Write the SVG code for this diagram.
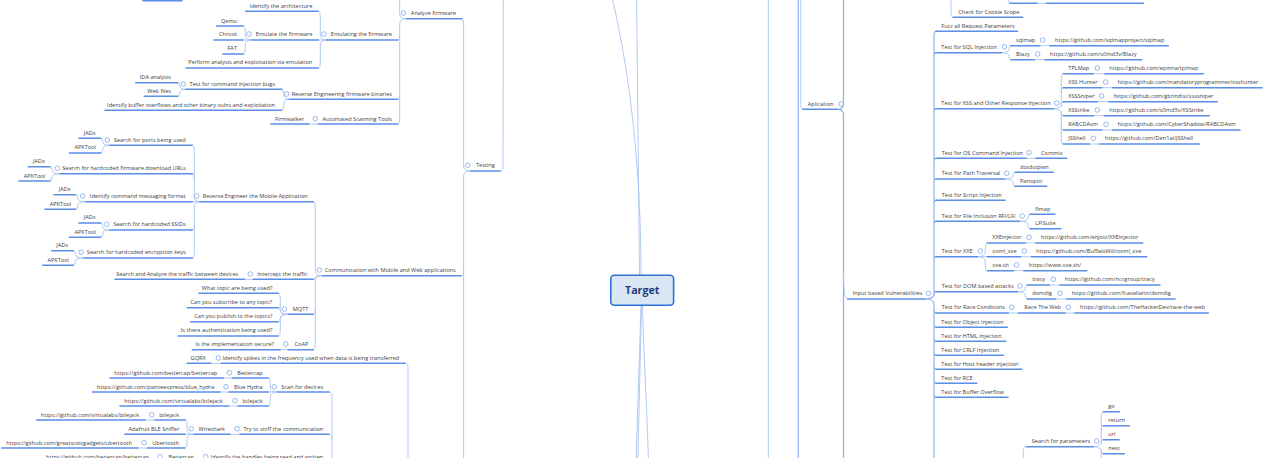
<svg xmlns="http://www.w3.org/2000/svg" width="1275" height="458" viewBox="0 0 1275 458">
<style>
.t{font-family:"Open Sans","Noto Sans","DejaVu Sans",sans-serif;font-size:5.6px;fill:#3d3d3d}
.e{text-anchor:end}
.u{stroke:#5b8ee6;stroke-width:1.6;fill:none;stroke-linecap:round}
.c{stroke:#a9c3ef;stroke-width:0.9;fill:none}
.c2{stroke:#8fb1ec;stroke-width:1.2;fill:none}
.k{fill:#fff;stroke:#8fb1ec;stroke-width:0.9}
</style>
<rect width="1275" height="458" fill="#fff"/>
<g id="connectors">
<path class="c" d="M641 275C641 180 632 80 611.5 -5M639.5 275L636.6 -5M641 305.5L635.8 470M641.5 305.5L637.6 470M642.5 305.5C644 360 647 410 648.8 470"/>
<path class="c" d="M768.3 -5V470"/>
<path class="c2" d="M798.3 -5V470"/>
<path class="c" d="M326.7 40Q320.3 40 320.3 35V16.3Q320.3 11.3 318.3 11.3M326.7 40H318.3M326.7 40Q320.3 40 320.3 45V63Q320.3 68 318.3 68"/>
<path class="c" d="M251.7 40Q245.3 40 245.3 35V31Q245.3 26 243.3 26M251.7 40H243.3M251.7 40Q245.3 40 245.3 45V49Q245.3 54 243.3 54"/>
<path class="c" d="M406.7 18.7Q399.7 18.7 399.7 23.7V35Q399.7 40 397.7 40M399.7 35V94.3Q399.7 99.3 397.7 99.3M399.7 94.3V119Q399.7 124 397.7 124M406.7 18.7Q399.7 18.7 399.7 13.7V-5"/>
<path class="c" d="M289.3 99.3Q283.7 99.3 283.7 94.3Q283.7 89.3 281.7 89.3M289.3 99.3Q283.7 99.3 283.7 104.3V105.3Q283.7 110.3 281.7 110.3"/>
<path class="c" d="M186 89.3Q179.7 89.3 179.7 86Q179.7 82.7 177.7 82.7M186 89.3Q179.7 89.3 179.7 92.8Q179.7 96.3 177.7 96.3"/>
<path class="c" d="M318.3 124H308.7"/>
<path class="c" d="M471 171Q463.6 171 463.6 166V23.7Q463.6 18.7 461.7 18.7M471 171Q463.6 171 463.6 176V270.7Q463.6 275.7 461 275.7M463.6 270.7V470"/>
<path class="c" d="M500 171Q503 171 503 166L503.3 -5"/>
<path class="c" d="M322.7 275.7Q315.3 275.7 315.3 270.7V206.7Q315.3 201.7 313.3 201.7M322.7 275.7Q315.3 275.7 315.3 277.5Q315.3 279.3 313.3 279.3M322.7 275.7Q315.3 275.7 315.3 280.7V309.3Q315.3 314.3 313.3 314.3M315.3 309.3V344.7Q315.3 349.7 313.3 349.7"/>
<path class="c" d="M200 201.7Q194.3 201.7 194.3 196.7V150.3Q194.3 145.3 192.3 145.3M194.3 178.7Q194.3 173.7 192.3 173.7M200 201.7H192.3M200 201.7Q194.3 201.7 194.3 206.7V253Q194.3 258 192.3 258M194.3 225Q194.3 230 192.3 230"/>
<path class="c" d="M110 145.3Q102.7 145.3 102.7 141.8Q102.7 138.3 100.7 138.3M110 145.3Q102.7 145.3 102.7 149.2Q102.7 153 100.7 153"/>
<path class="c" d="M60 173.7Q52 173.7 52 170.2Q52 166.7 50 166.7M60 173.7Q52 173.7 52 177.3Q52 181 50 181"/>
<path class="c" d="M86 201.7Q77.7 201.7 77.7 198.2Q77.7 194.7 75.7 194.7M86 201.7Q77.7 201.7 77.7 205.5Q77.7 209.3 75.7 209.3"/>
<path class="c" d="M110 230Q102.7 230 102.7 226.5Q102.7 223 100.7 223M110 230Q102.7 230 102.7 233.7Q102.7 237.3 100.7 237.3"/>
<path class="c" d="M84 258Q75.3 258 75.3 254.3Q75.3 250.7 73.3 250.7M84 258Q75.3 258 75.3 261.7Q75.3 265.3 73.3 265.3"/>
<path class="c" d="M253.3 279.3H244.3"/>
<path class="c" d="M288.3 314.3Q280.3 314.3 280.3 309.3V298.3Q280.3 293.3 278.3 293.3M288.3 314.3Q280.3 314.3 280.3 311Q280.3 307.7 278.3 307.7M288.3 314.3Q280.3 314.3 280.3 318Q280.3 321.7 278.3 321.7M288.3 314.3Q280.3 314.3 280.3 319.3V331Q280.3 336 278.3 336"/>
<path class="c" d="M288.3 349.7H280"/>
<path class="c" d="M221.7 363.3H210.7M405 363.3Q408 363.3 408 368.3V470"/>
<path class="c" d="M277.7 392Q270.3 392 270.3 387V383Q270.3 378 268.3 378M277.7 392H268.3M277.7 392Q270.3 392 270.3 397V401Q270.3 406 268.3 406"/>
<path class="c" d="M329 392Q332 392 332 397V470M329 434.3Q332 434.3 332 439.3"/>
<path class="c" d="M232.3 378H223.3M229 392H220M238.3 406H228.3"/>
<path class="c" d="M240 434.3H230"/>
<path class="c" d="M194.3 434.3Q187 434.3 187 429.3V425Q187 420 185 420M194.3 434.3H185M194.3 434.3Q187 434.3 187 439.3V443Q187 448 185 448"/>
<path class="c" d="M155 420H145M147.7 448H137.7"/>
<path class="c" d="M802.7 109.3Q800.7 109.3 800.7 104.3V-5"/>
<path class="c2" d="M837.3 109.3Q843.5 109.3 843.5 104.3V-5M837.3 109.3Q843.5 109.3 843.5 114.3V470"/>
<path class="c" d="M843.5 272C843.5 292 845 299 847.7 299"/>
<path class="c" d="M953.3 17.3Q951 17.3 951 12.3V-5M1008 -3Q1008 3.3 1010 3.3M1036.7 3.3H1046.7"/>
<path class="c2" d="M925 299Q934 299 934 294V36.3Q934 31.3 936 31.3M934 57.7Q934 52.7 936 52.7M934 113.7Q934 108.7 936 108.7M934 163.3Q934 158.3 936 158.3M934 184Q934 179 936 179M934 205.3Q934 200.3 936 200.3M934 226.3Q934 221.3 936 221.3M934 261.7Q934 256.7 936 256.7M934 295.7Q934 291.7 936 291.7M925 299Q934 299 934 304V470M934 308Q934 313 936 313M934 322.3Q934 327.3 936 327.3M934 336.3Q934 341.3 936 341.3M934 350.3Q934 355.3 936 355.3M934 364.3Q934 369.3 936 369.3M934 378.3Q934 383.3 936 383.3M934 392.3Q934 397.3 936 397.3"/>
<path class="c" d="M1001.3 52.7Q1009 52.7 1009 49.2Q1009 45.7 1011 45.7M1001.3 52.7Q1009 52.7 1009 56.2Q1009 59.7 1011 59.7M1039.3 45.7H1050M1034.3 59.7H1045"/>
<path class="c" d="M1053.3 108.7Q1061.3 108.7 1061.3 103.7V78.7Q1061.3 73.7 1063.3 73.7M1061.3 92.7Q1061.3 87.7 1063.3 87.7M1061.3 106.2Q1061.3 101.7 1063.3 101.7M1053.3 108.7Q1061.3 108.7 1061.3 113.7V139Q1061.3 144 1063.3 144M1061.3 111.2Q1061.3 115.7 1063.3 115.7M1061.3 125Q1061.3 130 1063.3 130"/>
<path class="c" d="M1093.3 73.7H1105M1101.7 87.7H1112.7M1097.3 101.7H1109M1093.3 115.7H1104.3M1101.7 130H1112.7M1089.3 144H1100"/>
<path class="c" d="M1026 158.3H1036"/>
<path class="c" d="M1004 179Q1013 179 1013 175.7Q1013 172.3 1015 172.3M1004 179Q1013 179 1013 182.7Q1013 186.3 1015 186.3"/>
<path class="c" d="M1019.3 221.3Q1028 221.3 1028 217.8Q1028 214.3 1030 214.3M1019.3 221.3Q1028 221.3 1028 225Q1028 228.7 1030 228.7"/>
<path class="c" d="M977.3 256.7Q985.3 256.7 985.3 251.7V248Q985.3 243 987.3 243M977.3 256.7H987.3M977.3 256.7Q985.3 256.7 985.3 261.7V265.7Q985.3 270.7 987.3 270.7M1025 243H1036M1020.7 256.7H1031.7M1013.3 270.7H1024"/>
<path class="c" d="M1017.3 291.7Q1025.3 291.7 1025.3 288.3Q1025.3 285 1027.3 285M1017.3 291.7Q1025.3 291.7 1025.3 295.3Q1025.3 299 1027.3 299M1049.3 285H1060M1055.7 299H1066.7"/>
<path class="c" d="M1008.3 313H1018.3M1065 313H1075"/>
<path class="c" d="M1026.7 446.7Q1023.3 446.7 1023.3 451.7V470"/>
<path class="c" d="M1093.3 446.7Q1101.3 446.7 1101.3 441.7V416.7Q1101.3 411.7 1103.3 411.7M1101.3 430.7Q1101.3 425.7 1103.3 425.7M1101.3 444.2Q1101.3 439.7 1103.3 439.7M1093.3 446.7Q1101.3 446.7 1101.3 451.7V470M1101.3 449.2Q1101.3 453.7 1103.3 453.7"/>
</g>
<g id="n-target"><rect x="610.8" y="275.2" width="62.8" height="30" rx="3.5" fill="#dbe6f5" stroke="#2a72d8" stroke-width="1.6"/><text x="642.2" y="294" text-anchor="middle" font-family="'Open Sans','Noto Sans',sans-serif" font-weight="700" font-size="10.7" fill="#1f3d7a">Target</text></g>
<g id="n-frag-top-left"><path class="u" d="M143 0.6H182"/></g>
<g id="n-arch"><text class="t e" x="312.3" y="8">Identify the architecture</text><path class="u" d="M245.7 11.3H318.3"/></g>
<g id="n-emulating"><text class="t e" x="392" y="36">Emulating the firmware</text><path class="u" d="M326.7 40H397.7"/><circle class="k" cx="324" cy="34" r="2.3"/></g>
<g id="n-emulate"><text class="t e" x="312.3" y="36">Emulate the firmware</text><path class="u" d="M251.7 40H318.3"/><circle class="k" cx="249" cy="34" r="2.3"/></g>
<g id="n-qemu"><text class="t e" x="237" y="22.7">Qemu</text><path class="u" d="M216.7 26H243.3"/></g>
<g id="n-chroot"><text class="t e" x="237" y="36">Chroot</text><path class="u" d="M214 40H243.3"/></g>
<g id="n-fat"><text class="t e" x="237" y="50">FAT</text><path class="u" d="M223 54H243.3"/></g>
<g id="n-perform"><text class="t e" x="312.3" y="64">Perform analysis and exploitation via emulation</text><path class="u" d="M186 68H318.3"/></g>
<g id="n-analyze"><text class="t e" x="456" y="15">Analyze firmware</text><path class="u" d="M406.7 18.7H461.7"/><circle class="k" cx="403.3" cy="13" r="2.3"/></g>
<g id="n-cmdinj"><text class="t e" x="275" y="86">Test for command injection bugs</text><path class="u" d="M186 89.3H281.7"/><circle class="k" cx="183.3" cy="84" r="2.3"/></g>
<g id="n-ida"><text class="t e" x="171" y="79">IDA analysis</text><path class="u" d="M135.7 82.7H177.7"/></g>
<g id="n-webfiles"><text class="t e" x="171" y="92.7">Web files</text><path class="u" d="M144.3 96.3H177.7"/></g>
<g id="n-buffer"><text class="t e" x="275" y="106.7">Identify buffer overflows and other binary vulns and exploitation</text><path class="u" d="M105 110.3H281.7"/></g>
<g id="n-revfw"><text class="t e" x="392" y="96">Reverse Engineering firmware binaries</text><path class="u" d="M289.3 99.3H397.7"/><circle class="k" cx="286.7" cy="94" r="2.3"/></g>
<g id="n-firmwalker"><text class="t e" x="304" y="120.7">Firmwalker</text><path class="u" d="M271 124H308.7"/></g>
<g id="n-auto"><text class="t e" x="392" y="120.7">Automated Scanning Tools</text><path class="u" d="M318.3 124H397.7"/><circle class="k" cx="315.3" cy="118.7" r="2.3"/></g>
<g id="n-testing"><text class="t e" x="494.7" y="167.3">Testing</text><path class="u" d="M471 171H500"/><circle class="k" cx="467.7" cy="165.3" r="2.3"/></g>
<g id="n-ports"><text class="t e" x="185.7" y="142">Search for ports being used</text><path class="u" d="M110 145.3H192.3"/><circle class="k" cx="107.3" cy="140" r="2.3"/></g>
<g id="n-ports-jadx"><text class="t e" x="95.7" y="135">JADx</text><path class="u" d="M79 138.3H100.7"/></g>
<g id="n-ports-apk"><text class="t e" x="96" y="149.3">APKTool</text><path class="u" d="M69.3 153H100.7"/></g>
<g id="n-urls"><text class="t e" x="185.7" y="170.3">Search for hardcoded firmware download URLs</text><path class="u" d="M60 173.7H192.3"/><circle class="k" cx="57.3" cy="168.3" r="2.3"/></g>
<g id="n-urls-jadx"><text class="t e" x="45" y="163">JADx</text><path class="u" d="M28.3 166.7H50"/></g>
<g id="n-urls-apk"><text class="t e" x="45.3" y="177.7">APKTool</text><path class="u" d="M19 181H50"/></g>
<g id="n-cmdfmt"><text class="t e" x="185.7" y="198">Identify command messaging format</text><path class="u" d="M86 201.7H192.3"/><circle class="k" cx="82.7" cy="196" r="2.3"/></g>
<g id="n-cmdfmt-jadx"><text class="t e" x="70.7" y="191">JADx</text><path class="u" d="M54 194.7H75.7"/></g>
<g id="n-cmdfmt-apk"><text class="t e" x="71.3" y="205.7">APKTool</text><path class="u" d="M45 209.3H75.7"/></g>
<g id="n-ssids"><text class="t e" x="185.7" y="226.3">Search for hardcoded SSIDs</text><path class="u" d="M110 230H192.3"/><circle class="k" cx="106.7" cy="224.3" r="2.3"/></g>
<g id="n-ssids-jadx"><text class="t e" x="95.7" y="219.3">JADx</text><path class="u" d="M79 223H100.7"/></g>
<g id="n-ssids-apk"><text class="t e" x="96" y="233.7">APKTool</text><path class="u" d="M69.3 237.3H100.7"/></g>
<g id="n-keys"><text class="t e" x="185.7" y="254.3">Search for hardcoded encryption keys</text><path class="u" d="M84 258H192.3"/><circle class="k" cx="81" cy="252.3" r="2.3"/></g>
<g id="n-keys-jadx"><text class="t e" x="68.3" y="247">JADx</text><path class="u" d="M51.7 250.7H73.3"/></g>
<g id="n-keys-apk"><text class="t e" x="69" y="261.7">APKTool</text><path class="u" d="M42.7 265.3H73.3"/></g>
<g id="n-remobile"><text class="t e" x="307.7" y="198">Reverse Engineer the Mobile Application</text><path class="u" d="M200 201.7H313.3"/><circle class="k" cx="196.7" cy="196" r="2.3"/></g>
<g id="n-comm"><text class="t e" x="455.7" y="272">Communication with Mobile and Web applications</text><path class="u" d="M322.7 275.7H461"/><circle class="k" cx="319.3" cy="270" r="2.3"/></g>
<g id="n-intercept"><text class="t e" x="307.7" y="276">Intercept the traffic</text><path class="u" d="M253.3 279.3H313.3"/><circle class="k" cx="250.3" cy="274" r="2.3"/></g>
<g id="n-searchanalyze"><text class="t e" x="238.3" y="276">Search and Analyze the traffic between devices</text><path class="u" d="M115 279.3H244.3"/></g>
<g id="n-mqtt"><text class="t e" x="308.3" y="311">MQTT</text><path class="u" d="M288.3 314.3H313.3"/><circle class="k" cx="284.5" cy="309" r="2.3"/></g>
<g id="n-mqtt-topic"><text class="t e" x="272.3" y="290">What topic are being used?</text><path class="u" d="M199 293.3H278.3"/></g>
<g id="n-mqtt-sub"><text class="t e" x="272.3" y="304.3">Can you subscribe to any topic?</text><path class="u" d="M187.3 307.7H278.3"/></g>
<g id="n-mqtt-pub"><text class="t e" x="272.3" y="318">Can you publish to the topics?</text><path class="u" d="M190.7 321.7H278.3"/></g>
<g id="n-mqtt-auth"><text class="t e" x="272.3" y="332.3">Is there authentication being used?</text><path class="u" d="M178.3 336H278.3"/></g>
<g id="n-coap"><text class="t e" x="308.3" y="346">CoAP</text><path class="u" d="M288.3 349.7H313.3"/><circle class="k" cx="285.8" cy="344" r="2.3"/></g>
<g id="n-coap-secure"><text class="t e" x="274" y="346">Is the implementation secure?</text><path class="u" d="M192.3 349.7H280"/></g>
<g id="n-spikes"><text class="t e" x="399.3" y="360">Identify spikes in the frequency used when data is being transferred</text><path class="u" d="M221.7 363.3H405"/><circle class="k" cx="218.3" cy="358" r="2.3"/></g>
<g id="n-gqrx"><text class="t e" x="205.7" y="360">GQRX</text><path class="u" d="M187.3 363.3H210.7"/></g>
<g id="n-scan"><text class="t e" x="323.3" y="388.7">Scan for devices</text><path class="u" d="M277.7 392H329"/><circle class="k" cx="274.3" cy="386.7" r="2.3"/></g>
<g id="n-scan-bettercap"><text class="t e" x="262.7" y="374.7">Bettercap</text><path class="u" d="M232.3 378H268.3"/><circle class="k" cx="229.3" cy="372.7" r="2.3"/></g>
<g id="n-scan-bettercap-url"><text class="t e" x="217.3" y="374.7">https://github.com/bettercap/bettercap</text><path class="u" d="M110 378H223.3"/></g>
<g id="n-bluehydra"><text class="t e" x="262.7" y="388.7">Blue Hydra</text><path class="u" d="M229 392H268.3"/><circle class="k" cx="226" cy="386.7" r="2.3"/></g>
<g id="n-bluehydra-url"><text class="t e" x="214.3" y="388.7">https://github.com/pwnieexpress/blue_hydra</text><path class="u" d="M92.3 392H220"/></g>
<g id="n-scan-btlejack"><text class="t e" x="262.7" y="402.7">btlejack</text><path class="u" d="M238.3 406H268.3"/><circle class="k" cx="235" cy="400.7" r="2.3"/></g>
<g id="n-scan-btlejack-url"><text class="t e" x="222.7" y="402.7">https://github.com/virtualabs/btlejack</text><path class="u" d="M120 406H228.3"/></g>
<g id="n-sniff"><text class="t e" x="323.3" y="430.7">Try to sniff the communication</text><path class="u" d="M240 434.3H329"/><circle class="k" cx="237" cy="428.7" r="2.3"/></g>
<g id="n-wireshark"><text class="t e" x="225" y="430.7">Wireshark</text><path class="u" d="M194.3 434.3H230"/><circle class="k" cx="191.3" cy="428.7" r="2.3"/></g>
<g id="n-ws-btlejack"><text class="t e" x="179.3" y="416.7">btlejack</text><path class="u" d="M155 420H185"/><circle class="k" cx="151.7" cy="414.7" r="2.3"/></g>
<g id="n-ws-btlejack-url"><text class="t e" x="139.3" y="416.7">https://github.com/virtualabs/btlejack</text><path class="u" d="M36.7 420H145"/></g>
<g id="n-adafruit"><text class="t e" x="179.3" y="430.7">Adafruit BLE Sniffer</text><path class="u" d="M125 434.3H185"/></g>
<g id="n-ubertooth"><text class="t e" x="179.3" y="444.7">Ubertooth</text><path class="u" d="M147.7 448H185"/><circle class="k" cx="144" cy="442.7" r="2.3"/></g>
<g id="n-ubertooth-url"><text class="t e" x="132" y="444.7">https://github.com/greatscottgadgets/ubertooth</text><path class="u" d="M1.7 448H137.7"/></g>
<g id="n-handles"><text class="t e" x="323.3" y="458.7">Identify the handles being read and written</text><circle class="k" cx="205.7" cy="456.7" r="2.3"/></g>
<g id="n-handles-bettercap"><text class="t e" x="194" y="458.7">Bettercap</text><circle class="k" cx="160" cy="456.7" r="2.3"/></g>
<g id="n-handles-bettercap-url"><text class="t e" x="149" y="458.7">https://github.com/bettercap/bettercap</text></g>
<g id="n-frag-top-right"><path class="u" d="M1010 3.3H1036.7M1046.7 3.3H1143.3"/></g>
<g id="n-cookie"><text class="t" x="958.3" y="13.7">Check for Cookie Scope</text><path class="u" d="M953.3 17.3H1022.7"/></g>
<g id="n-aplication"><text class="t" x="807.7" y="106">Aplication</text><path class="u" d="M802.7 109.3H837.3"/><circle class="k" cx="841" cy="104" r="2.3"/></g>
<g id="n-input"><text class="t" x="852.7" y="295.3">Input based Vulnerabilities</text><path class="u" d="M847.7 299H925"/><circle class="k" cx="928.5" cy="293.3" r="2.3"/></g>
<g id="n-fuzz"><text class="t" x="941.3" y="27.7">Fuzz all Request Parameters</text><path class="u" d="M936 31.3H1017.3"/></g>
<g id="n-sqli"><text class="t" x="941.3" y="48.7">Test for SQL Injection</text><path class="u" d="M936 52.7H1001.3"/><circle class="k" cx="1004.5" cy="46.7" r="2.3"/></g>
<g id="n-sqlmap"><text class="t" x="1016" y="42">sqlmap</text><path class="u" d="M1011 45.7H1039.3"/><circle class="k" cx="1042.7" cy="40" r="2.3"/></g>
<g id="n-sqlmap-url"><text class="t" x="1055" y="42">https://github.com/sqlmapproject/sqlmap</text><path class="u" d="M1050 45.7H1168.3"/></g>
<g id="n-blazy"><text class="t" x="1016" y="56">Blazy</text><path class="u" d="M1011 59.7H1034.3"/><circle class="k" cx="1037.7" cy="54" r="2.3"/></g>
<g id="n-blazy-url"><text class="t" x="1050" y="56">https://github.com/s0md3v/Blazy</text><path class="u" d="M1045 59.7H1141.7"/></g>
<g id="n-xss"><text class="t" x="941.3" y="105">Test for XSS and Other Response Injection</text><path class="u" d="M936 108.7H1053.3"/><circle class="k" cx="1056.7" cy="103" r="2.3"/></g>
<g id="n-tplmap"><text class="t" x="1068.3" y="70">TPLMap</text><path class="u" d="M1063.3 73.7H1093.3"/><circle class="k" cx="1097.3" cy="68" r="2.3"/></g>
<g id="n-tplmap-url"><text class="t" x="1109.3" y="70">https://github.com/epinna/tplmap</text><path class="u" d="M1105 73.7H1203.3"/></g>
<g id="n-xsshunter"><text class="t" x="1068.3" y="84">XSS Hunter</text><path class="u" d="M1063.3 87.7H1101.7"/><circle class="k" cx="1105.7" cy="82" r="2.3"/></g>
<g id="n-xsshunter-url"><text class="t" x="1117.7" y="84">https://github.com/mandatoryprogrammer/xsshunter</text><path class="u" d="M1112.7 87.7H1262.3"/></g>
<g id="n-xsssniper"><text class="t" x="1068.3" y="98">XSSSniper</text><path class="u" d="M1063.3 101.7H1097.3"/><circle class="k" cx="1101.7" cy="96" r="2.3"/></g>
<g id="n-xsssniper-url"><text class="t" x="1113.7" y="98">https://github.com/gbrindisi/xsssniper</text><path class="u" d="M1109 101.7H1217.3"/></g>
<g id="n-xsstrike"><text class="t" x="1068.3" y="112">XSStrike</text><path class="u" d="M1063.3 115.7H1093.3"/><circle class="k" cx="1097.3" cy="110" r="2.3"/></g>
<g id="n-xsstrike-url"><text class="t" x="1109.3" y="112">https://github.com/s0md3v/XSStrike</text><path class="u" d="M1104.3 115.7H1209.3"/></g>
<g id="n-rabcd"><text class="t" x="1068.3" y="126.3">RABCDAsm</text><path class="u" d="M1063.3 130H1101.7"/><circle class="k" cx="1106" cy="124.3" r="2.3"/></g>
<g id="n-rabcd-url"><text class="t" x="1117.7" y="126.3">https://github.com/CyberShadow/RABCDAsm</text><path class="u" d="M1112.7 130H1240"/></g>
<g id="n-jsshell"><text class="t" x="1068.3" y="140.3">JSShell</text><path class="u" d="M1063.3 144H1089.3"/><circle class="k" cx="1093.3" cy="138.3" r="2.3"/></g>
<g id="n-jsshell-url"><text class="t" x="1105" y="140.3">https://github.com/Den1al/JSShell</text><path class="u" d="M1100 144H1199.3"/></g>
<g id="n-oscmd"><text class="t" x="941.7" y="154.7">Test for OS Command Injection</text><path class="u" d="M936 158.3H1026"/><circle class="k" cx="1029" cy="152.7" r="2.3"/></g>
<g id="n-commix"><text class="t" x="1041" y="154.7">Commix</text><path class="u" d="M1036 158.3H1066.7"/></g>
<g id="n-path"><text class="t" x="941.7" y="175.3">Test for Path Traversal</text><path class="u" d="M936 179H1004"/><circle class="k" cx="1006.7" cy="173.3" r="2.3"/></g>
<g id="n-dotdotpwn"><text class="t" x="1020" y="168.7">dotdotpwn</text><path class="u" d="M1015 172.3H1053.3"/></g>
<g id="n-panoptic"><text class="t" x="1020" y="182.7">Panoptic</text><path class="u" d="M1015 186.3H1046.7"/></g>
<g id="n-script"><text class="t" x="941.7" y="197">Test for Script Injection</text><path class="u" d="M936 200.3H1005"/></g>
<g id="n-fileinc"><text class="t" x="941.7" y="218">Test for File Inclusion RFI/LFI</text><path class="u" d="M936 221.3H1019.3"/><circle class="k" cx="1022.3" cy="216" r="2.3"/></g>
<g id="n-fimap"><text class="t" x="1035.3" y="210.7">fimap</text><path class="u" d="M1030 214.3H1055"/></g>
<g id="n-lfisuite"><text class="t" x="1035.3" y="225">LFISuite</text><path class="u" d="M1030 228.7H1060.7"/></g>
<g id="n-xxe"><text class="t" x="941.7" y="253">Test for XXE</text><path class="u" d="M936 256.7H977.3"/><circle class="k" cx="980.3" cy="251" r="2.3"/></g>
<g id="n-xxeinjector"><text class="t" x="992.3" y="239.3">XXEinjector</text><path class="u" d="M987.3 243H1025"/><circle class="k" cx="1029" cy="237.3" r="2.3"/></g>
<g id="n-xxeinjector-url"><text class="t" x="1041" y="239.3">https://github.com/enjoiz/XXEinjector</text><path class="u" d="M1036 243H1142.7"/></g>
<g id="n-oxml"><text class="t" x="992.3" y="253">oxml_xxe</text><path class="u" d="M987.3 256.7H1020.7"/><circle class="k" cx="1024.3" cy="251" r="2.3"/></g>
<g id="n-oxml-url"><text class="t" x="1036.3" y="253">https://github.com/BuffaloWill/oxml_xxe</text><path class="u" d="M1031.7 256.7H1146.7"/></g>
<g id="n-xxesh"><text class="t" x="992.3" y="267">xxe.sh</text><path class="u" d="M987.3 270.7H1013.3"/><circle class="k" cx="1016.7" cy="265" r="2.3"/></g>
<g id="n-xxesh-url"><text class="t" x="1029" y="267">https://www.xxe.sh/</text><path class="u" d="M1024 270.7H1086.7"/></g>
<g id="n-dom"><text class="t" x="941.7" y="288">Test for DOM based attacks</text><path class="u" d="M936 291.7H1017.3"/><circle class="k" cx="1020" cy="286" r="2.3"/></g>
<g id="n-tracy"><text class="t" x="1032.3" y="281.3">tracy</text><path class="u" d="M1027.3 285H1049.3"/><circle class="k" cx="1053.3" cy="279.3" r="2.3"/></g>
<g id="n-tracy-url"><text class="t" x="1065" y="281.3">https://github.com/nccgroup/tracy</text><path class="u" d="M1060 285H1160"/></g>
<g id="n-domdig"><text class="t" x="1032.3" y="295.3">domdig</text><path class="u" d="M1027.3 299H1055.7"/><circle class="k" cx="1060" cy="293.3" r="2.3"/></g>
<g id="n-domdig-url"><text class="t" x="1071.7" y="295.3">https://github.com/fcavallarin/domdig</text><path class="u" d="M1066.7 299H1175"/></g>
<g id="n-race"><text class="t" x="941.7" y="309.3">Test for Race Conditions</text><path class="u" d="M936 313H1008.3"/><circle class="k" cx="1011.7" cy="307.3" r="2.3"/></g>
<g id="n-racetheweb"><text class="t" x="1024.3" y="309.3">Race The Web</text><path class="u" d="M1018.3 313H1065"/><circle class="k" cx="1068.3" cy="307.3" r="2.3"/></g>
<g id="n-racetheweb-url"><text class="t" x="1080" y="309.3">https://github.com/TheHackerDev/race-the-web</text><path class="u" d="M1075 313H1208.3"/></g>
<g id="n-object"><text class="t" x="941.3" y="323.7">Test for Object Injection</text><path class="u" d="M936 327.3H1007.3"/></g>
<g id="n-html"><text class="t" x="941.3" y="337.7">Test for HTML Injection</text><path class="u" d="M936 341.3H1005.7"/></g>
<g id="n-crlf"><text class="t" x="941.3" y="351.7">Test for CRLF Injection</text><path class="u" d="M936 355.3H1003.3"/></g>
<g id="n-host"><text class="t" x="941.3" y="365.7">Test for Host header injection</text><path class="u" d="M936 369.3H1021.7"/></g>
<g id="n-rce"><text class="t" x="941.3" y="379.7">Test for RCE</text><path class="u" d="M936 383.3H976.7"/></g>
<g id="n-bof"><text class="t" x="941.3" y="393.7">Test for Buffer Overflow</text><path class="u" d="M936 397.3H1008"/></g>
<g id="n-searchparams"><text class="t" x="1031.7" y="443">Search for parameters</text><path class="u" d="M1026.7 446.7H1093.3"/><circle class="k" cx="1096.7" cy="441" r="2.3"/></g>
<g id="n-go"><text class="t" x="1108.3" y="408">go</text><path class="u" d="M1103.3 411.7H1119.3"/></g>
<g id="n-return"><text class="t" x="1108.3" y="422">return</text><path class="u" d="M1103.3 425.7H1129.3"/></g>
<g id="n-url"><text class="t" x="1108.3" y="436">url</text><path class="u" d="M1103.3 439.7H1119.3"/></g>
<g id="n-next"><text class="t" x="1108.3" y="450">next</text><path class="u" d="M1103.3 453.7H1124.3"/></g>
</svg>
